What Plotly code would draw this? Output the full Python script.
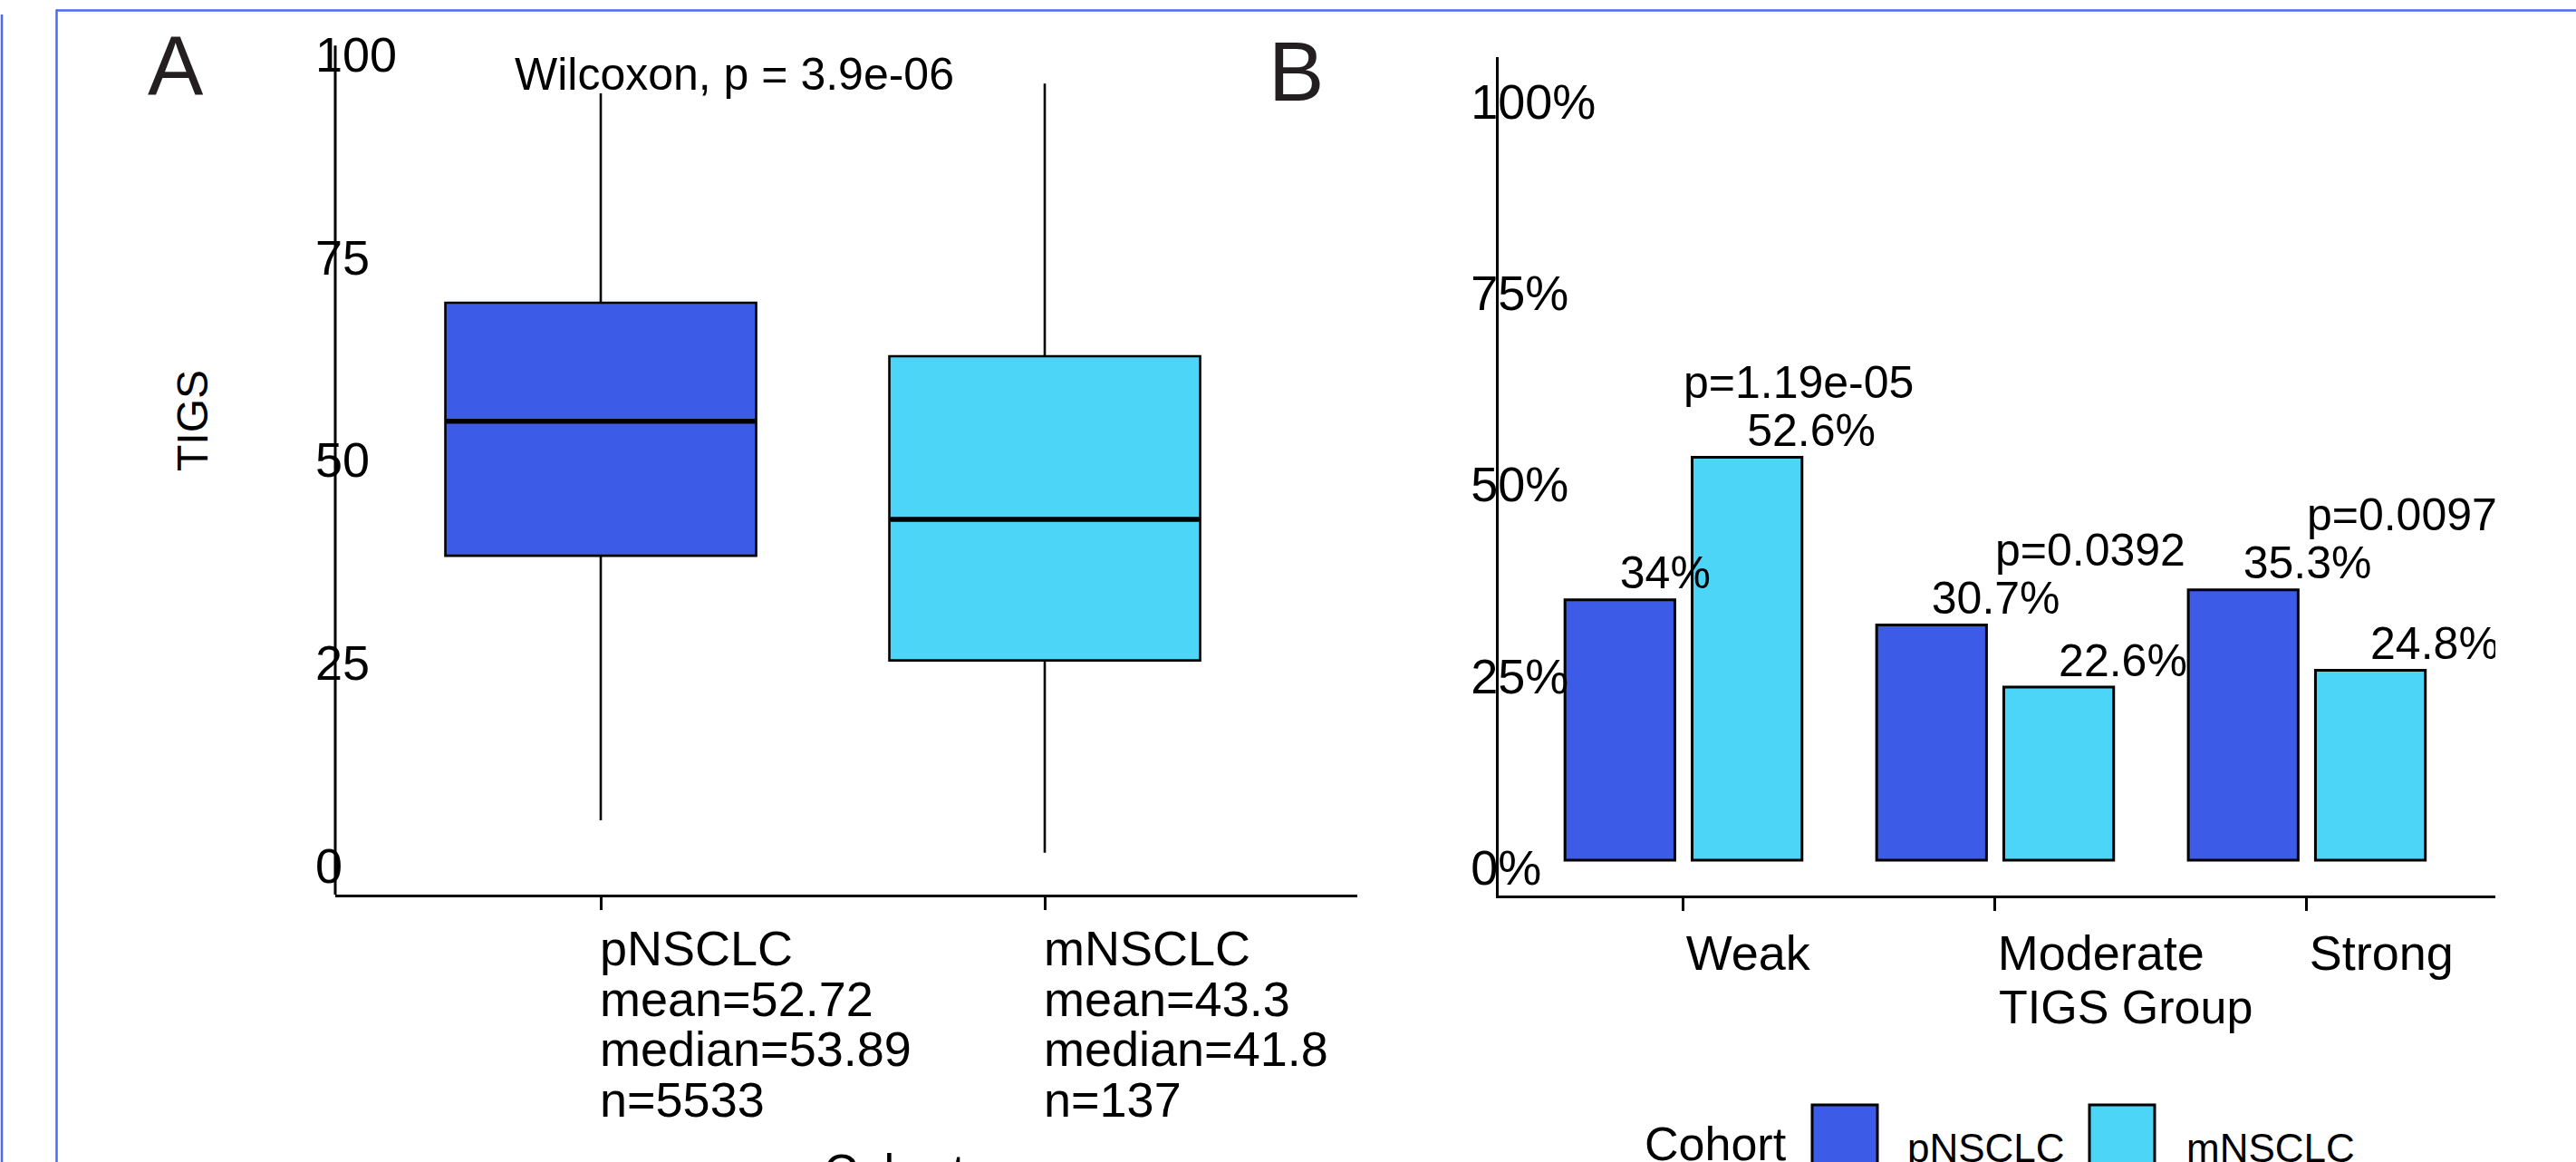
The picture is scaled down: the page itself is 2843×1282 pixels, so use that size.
import plotly.graph_objects as go

# ---------------- data ----------------
cohorts = ["pNSCLC", "mNSCLC"]
cohort_mean_txt = ["52.72", "43.3"]
cohort_median_txt = ["53.89", "41.8"]
cohort_n = [5533, 137]
box_lower = [4.7, 0.7]
box_q1 = [37.3, 24.4]
box_median = [53.89, 41.8]
box_q3 = [68.5, 61.9]
box_upper = [94.3, 95.5]
wilcoxon_label = "Wilcoxon, p = 3.9e-06"
tigs_ticks = [0, 25, 50, 75, 100]

tigs_groups = ["Weak", "Moderate", "Strong"]
pct_pNSCLC = [34.0, 30.7, 35.3]
pct_mNSCLC = [52.6, 22.6, 24.8]
pct_labels_p = ["34%", "30.7%", "35.3%"]
pct_labels_m = ["52.6%", "22.6%", "24.8%"]
group_pvalues = ["p=1.19e-05", "p=0.0392", "p=0.00979"]
pct_ticks = [0, 25, 50, 75, 100]
pct_ticktext = ["0%", "25%", "50%", "75%", "100%"]

# ---------------- style ----------------
W, H = 2843, 1282
FONT = "Liberation Sans, Arial, Helvetica, sans-serif"
COL = {"pNSCLC": "#3C5CE8", "mNSCLC": "#4DD5F7"}
FRAME = "#4A6AF4"
INK = "#000000"

def fx(px):
    return px / W

def fy(py):
    return 1 - py / H

# panel geometry (pixels)
A_left, A_right, A_bottom = 370, 1498, 987
A_top = 28                     # plot area top (room for the "100" label)
A_line_top_val = 100.2         # where the drawn y axis line stops
A_zero_px, A_px_per_unit = 947, 8.95
A_xrange = [-0.598, 1.704]
A_yrange = [(A_zero_px - A_bottom) / A_px_per_unit,
            (A_zero_px - A_top) / A_px_per_unit]

B_left, B_right, B_top, B_bottom = 1654, 2754, 63, 988
B_xrange = [-0.593, 2.605]
B_yrange = [-4.62, 104.85]
BOXGAP = 0.30
BARGAP = 0.184
BARGROUPGAP = 0.136

fig = go.Figure()

# ---------------- Panel A : boxplot ----------------
for i, c in enumerate(cohorts):
    fig.add_trace(go.Box(
        x=[c], q1=[box_q1[i]], median=[box_median[i]], q3=[box_q3[i]],
        lowerfence=[box_lower[i]], upperfence=[box_upper[i]],
        fillcolor=COL[c], line=dict(color=INK, width=2.6),
        boxpoints=False, whiskerwidth=0, showlegend=False,
        hoverinfo="skip", xaxis="x", yaxis="y",
    ))

# thicker median bars drawn on top of the boxes (line-ew symbol is 1.4*size long)
px_per_cat_A = (A_right - A_left) / (A_xrange[1] - A_xrange[0])
fig.add_trace(go.Scatter(
    x=cohorts, y=box_median, mode="markers",
    marker=dict(symbol="line-ew", size=((1 - BOXGAP) * px_per_cat_A - 3) / 1.4,
                line=dict(color=INK, width=5.5)),
    showlegend=False, hoverinfo="skip", xaxis="x", yaxis="y",
))

# ---------------- Panel B : grouped bars ----------------
idx = list(range(len(tigs_groups)))
for name, vals in (("pNSCLC", pct_pNSCLC), ("mNSCLC", pct_mNSCLC)):
    fig.add_trace(go.Bar(
        x=idx, y=vals, name=name,
        marker=dict(color=COL[name], line=dict(color=INK, width=3)),
        showlegend=False, hoverinfo="skip", xaxis="x2", yaxis="y2",
    ))

d = (1 - BARGAP) / 4
for offs, vals, labels in ((-d, pct_pNSCLC, pct_labels_p), (d, pct_mNSCLC, pct_labels_m)):
    fig.add_trace(go.Scatter(
        x=[i + offs for i in idx], y=vals, text=labels, mode="text",
        marker=dict(size=1),
        textposition="top right", textfont=dict(family=FONT, size=50, color=INK),
        cliponaxis=True, showlegend=False, hoverinfo="skip", xaxis="x2", yaxis="y2",
    ))
fig.add_trace(go.Scatter(
    x=idx, y=[max(a, b) + 9.2 for a, b in zip(pct_pNSCLC, pct_mNSCLC)],
    text=group_pvalues, mode="text", marker=dict(size=1),
    textposition="middle right", textfont=dict(family=FONT, size=50, color=INK),
    cliponaxis=True, showlegend=False, hoverinfo="skip", xaxis="x2", yaxis="y2",
))

# ---------------- axes ----------------
base = dict(linecolor=INK, linewidth=3, showgrid=False, zeroline=False, mirror=False)

fig.update_layout(
    width=W, height=H, margin=dict(l=0, r=0, t=0, b=0),
    paper_bgcolor="white", plot_bgcolor="white",
    font=dict(family=FONT, color=INK),
    boxmode="overlay", boxgap=BOXGAP, boxgroupgap=0,
    barmode="group", bargap=BARGAP, bargroupgap=BARGROUPGAP,
    xaxis=dict(domain=[fx(A_left), fx(A_right)], anchor="y", type="category",
               range=A_xrange, ticks="outside", ticklen=14, tickwidth=2.5,
               tickcolor=INK, showticklabels=False, showline=True, **base),
    yaxis=dict(domain=[fy(A_bottom), fy(A_top)], anchor="x", range=A_yrange,
               tickvals=tigs_ticks, ticks="", ticklabelposition="inside",
               ticklabelstandoff=-25, ticklabelshift=8, showline=False,
               tickfont=dict(size=54, color=INK), **base),
    xaxis2=dict(domain=[fx(B_left), fx(B_right)], anchor="y2", range=B_xrange,
                tickvals=idx, ticktext=tigs_groups, ticks="outside", ticklen=14,
                tickwidth=2.5, tickcolor=INK, ticklabelposition="outside right",
                ticklabelstandoff=14, tickfont=dict(size=54, color=INK),
                showline=True, **base),
    yaxis2=dict(domain=[fy(B_bottom), fy(B_top)], anchor="x2", range=B_yrange,
                tickvals=pct_ticks, ticktext=pct_ticktext, ticks="",
                ticklabelposition="inside", ticklabelstandoff=-23,
                ticklabelshift=8, tickfont=dict(size=54, color=INK),
                showline=True, **base),
)

ann = []
# panel A category labels with statistics (left aligned at the tick)
line_gap = 55.7
for i, c in enumerate(cohorts):
    lines = [c, "mean=" + cohort_mean_txt[i], "median=" + cohort_median_txt[i],
             "n=" + str(cohort_n[i])]
    for j, t in enumerate(lines):
        ann.append(dict(x=c, xref="x", y=fy(1046 + j * line_gap), yref="paper",
                        text=t, showarrow=False, xanchor="left", yanchor="middle",
                        xshift=-3, font=dict(size=54, color=INK)))

ann += [
    dict(x=fx(566), y=fy(82), xref="paper", yref="paper", text=wilcoxon_label,
         showarrow=False, xanchor="left", yanchor="middle", font=dict(size=50)),
    dict(x=fx(212), y=fy(522), xref="paper", yref="paper", text="TIGS",
         textangle=-90, showarrow=False, xanchor="center", yanchor="bottom",
         font=dict(size=48)),
    dict(x=fx(907), y=fy(1292), xref="paper", yref="paper", text="Cohort",
         showarrow=False, xanchor="left", yanchor="middle", font=dict(size=52)),
    dict(x=0.5, xref="x2 domain", y=fy(1111), yref="paper", text="TIGS Group",
         showarrow=False, xanchor="left", yanchor="middle", font=dict(size=52)),
    dict(x=fx(194), y=fy(73), xref="paper", yref="paper", text="A",
         showarrow=False, xanchor="center", yanchor="middle",
         font=dict(size=92, color="#231f20")),
    dict(x=fx(1431), y=fy(79), xref="paper", yref="paper", text="B",
         showarrow=False, xanchor="center", yanchor="middle",
         font=dict(size=92, color="#231f20")),
    # legend
    dict(x=fx(1813), y=fy(1262), xref="paper", yref="paper", text="Cohort",
         showarrow=False, xanchor="left", yanchor="middle", font=dict(size=52)),
]
legend_x = {"pNSCLC": (2000, 2103), "mNSCLC": (2306, 2411)}
shapes = [
    # panel A y axis line (stops just above 100)
    dict(type="line", xref="x domain", yref="y", x0=0, x1=0,
         y0=A_yrange[0], y1=A_line_top_val, line=dict(color=INK, width=3)),
]
for name in cohorts:
    kx, tx = legend_x[name]
    shapes.append(dict(type="rect", xref="paper", yref="paper",
                       x0=fx(kx), x1=fx(kx + 72), y0=fy(1300), y1=fy(1219),
                       fillcolor=COL[name], line=dict(color=INK, width=3)))
    ann.append(dict(x=fx(tx), y=fy(1266), xref="paper", yref="paper", text=name,
                    showarrow=False, xanchor="left", yanchor="middle",
                    font=dict(size=44, color=INK)))

# blue outer frame lines
shapes += [
    dict(type="line", xref="paper", yref="paper", x0=fx(62), x1=fx(W + 5),
         y0=fy(11.5), y1=fy(11.5), line=dict(color=FRAME, width=2.5)),
    dict(type="line", xref="paper", yref="paper", x0=fx(62.5), x1=fx(62.5),
         y0=fy(10.5), y1=fy(H + 5), line=dict(color=FRAME, width=2.5)),
    dict(type="line", xref="paper", yref="paper", x0=fx(2), x1=fx(2),
         y0=fy(16), y1=fy(H + 5), line=dict(color=FRAME, width=2.5)),
]

fig.update_layout(annotations=ann, shapes=shapes)
fig.write_html("out.html")
